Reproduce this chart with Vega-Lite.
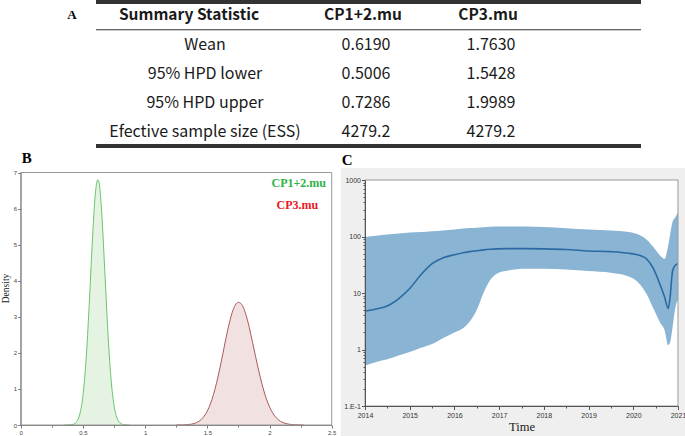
{
  "$schema": "https://vega.github.io/schema/vega-lite/v6.json",
  "width": 685,
  "height": 436,
  "autosize": {"type": "none"},
  "padding": 0,
  "background": "white",
  "config": {"view": {"stroke": null}},
  "resolve": {"scale": {"x": "independent", "y": "independent", "fill": "independent", "stroke": "independent", "strokeWidth": "independent"}},
  "layer": [
    {
      "data": {"values": [
        {"r": 0, "c": 2, "t": "Summary Statistic"},
        {"r": 0, "c": 3, "t": "CP1+2.mu"},
        {"r": 0, "c": 4, "t": "CP3.mu"},
        {"r": 1, "c": 2, "t": "Wean"},
        {"r": 1, "c": 3, "t": "0.6190"},
        {"r": 1, "c": 4, "t": "1.7630"},
        {"r": 2, "c": 2, "t": "95% HPD lower"},
        {"r": 2, "c": 3, "t": "0.5006"},
        {"r": 2, "c": 4, "t": "1.5428"},
        {"r": 3, "c": 2, "t": "95% HPD upper"},
        {"r": 3, "c": 3, "t": "0.7286"},
        {"r": 3, "c": 4, "t": "1.9989"},
        {"r": 4, "c": 2, "t": "Efective sample size (ESS)"},
        {"r": 4, "c": 3, "t": "4279.2"},
        {"r": 4, "c": 4, "t": "4279.2"}
      ]},
      "layer": [
        {
          "transform": [{"filter": "datum.r == 0 && datum.c == 2"}],
          "mark": {"type": "text", "font": "Noto Sans CJK SC", "fontSize": 15.5, "fontWeight": "bold", "color": "#1a1a1a", "baseline": "middle", "dx": -16},
          "encoding": {
            "x": {"field": "c", "type": "quantitative", "scale": {"domain": [0, 1, 2, 3, 4, 5], "range": [72, 96, 205, 366, 491, 641], "nice": false, "zero": false}, "axis": null},
            "y": {"field": "r", "type": "quantitative", "scale": {"domain": [0, 1, 4], "range": [15, 44.5, 131.5], "nice": false, "zero": false}, "axis": null},
            "text": {"field": "t"}
          }
        },
        {
          "transform": [{"filter": "datum.r == 0 && datum.c > 2"}],
          "mark": {"type": "text", "font": "Noto Sans CJK SC", "fontSize": 15.5, "fontWeight": "bold", "color": "#1a1a1a", "baseline": "middle", "dx": -3},
          "encoding": {
            "x": {"field": "c", "type": "quantitative"},
            "y": {"field": "r", "type": "quantitative"},
            "text": {"field": "t"}
          }
        },
        {
          "transform": [{"filter": "datum.r > 0"}],
          "mark": {"type": "text", "font": "Noto Sans CJK SC", "fontSize": 16, "color": "#1a1a1a", "baseline": "middle"},
          "encoding": {
            "x": {"field": "c", "type": "quantitative"},
            "y": {"field": "r", "type": "quantitative"},
            "text": {"field": "t"}
          }
        },
        {
          "data": {"values": [{"p": -0.44, "w": 1.6}, {"p": 0.5, "w": 1.1}, {"p": 4.5, "w": 1.6}]},
          "mark": {"type": "rule", "color": "#333"},
          "encoding": {
            "x": {"datum": 1, "type": "quantitative"},
            "x2": {"datum": 5},
            "y": {"field": "p", "type": "quantitative"},
            "strokeWidth": {"field": "w", "type": "quantitative", "scale": {"type": "identity"}, "legend": null}
          }
        },
        {
          "data": {"values": [{"label": "A"}]},
          "mark": {"type": "text", "font": "Liberation Serif", "fontSize": 13, "fontWeight": "bold", "color": "#000", "baseline": "middle"},
          "encoding": {
            "x": {"datum": 0, "type": "quantitative"},
            "y": {"datum": 0, "type": "quantitative"},
            "text": {"field": "label"}
          }
        }
      ]
    },
    {
      "data": {"values": [
        {"s": "CP1+2.mu", "x": 0.35, "d": 0.0},
        {"s": "CP1+2.mu", "x": 0.375, "d": 0.001},
        {"s": "CP1+2.mu", "x": 0.4, "d": 0.005},
        {"s": "CP1+2.mu", "x": 0.425, "d": 0.024},
        {"s": "CP1+2.mu", "x": 0.45, "d": 0.092},
        {"s": "CP1+2.mu", "x": 0.475, "d": 0.3},
        {"s": "CP1+2.mu", "x": 0.5, "d": 0.8},
        {"s": "CP1+2.mu", "x": 0.525, "d": 1.78},
        {"s": "CP1+2.mu", "x": 0.55, "d": 3.28},
        {"s": "CP1+2.mu", "x": 0.575, "d": 5.03},
        {"s": "CP1+2.mu", "x": 0.6, "d": 6.41},
        {"s": "CP1+2.mu", "x": 0.61, "d": 6.7},
        {"s": "CP1+2.mu", "x": 0.62, "d": 6.8},
        {"s": "CP1+2.mu", "x": 0.63, "d": 6.72},
        {"s": "CP1+2.mu", "x": 0.65, "d": 5.95},
        {"s": "CP1+2.mu", "x": 0.675, "d": 4.34},
        {"s": "CP1+2.mu", "x": 0.7, "d": 2.63},
        {"s": "CP1+2.mu", "x": 0.725, "d": 1.32},
        {"s": "CP1+2.mu", "x": 0.75, "d": 0.55},
        {"s": "CP1+2.mu", "x": 0.775, "d": 0.19},
        {"s": "CP1+2.mu", "x": 0.8, "d": 0.055},
        {"s": "CP1+2.mu", "x": 0.825, "d": 0.013},
        {"s": "CP1+2.mu", "x": 0.85, "d": 0.003},
        {"s": "CP1+2.mu", "x": 0.875, "d": 0.0},
        {"s": "CP3.mu", "x": 1.25, "d": 0.001},
        {"s": "CP3.mu", "x": 1.3, "d": 0.003},
        {"s": "CP3.mu", "x": 1.35, "d": 0.013},
        {"s": "CP3.mu", "x": 1.4, "d": 0.048},
        {"s": "CP3.mu", "x": 1.425, "d": 0.087},
        {"s": "CP3.mu", "x": 1.45, "d": 0.149},
        {"s": "CP3.mu", "x": 1.475, "d": 0.246},
        {"s": "CP3.mu", "x": 1.5, "d": 0.388},
        {"s": "CP3.mu", "x": 1.525, "d": 0.586},
        {"s": "CP3.mu", "x": 1.55, "d": 0.848},
        {"s": "CP3.mu", "x": 1.575, "d": 1.175},
        {"s": "CP3.mu", "x": 1.6, "d": 1.557},
        {"s": "CP3.mu", "x": 1.625, "d": 1.976},
        {"s": "CP3.mu", "x": 1.65, "d": 2.403},
        {"s": "CP3.mu", "x": 1.675, "d": 2.797},
        {"s": "CP3.mu", "x": 1.7, "d": 3.117},
        {"s": "CP3.mu", "x": 1.725, "d": 3.327},
        {"s": "CP3.mu", "x": 1.75, "d": 3.4},
        {"s": "CP3.mu", "x": 1.775, "d": 3.35},
        {"s": "CP3.mu", "x": 1.8, "d": 3.17},
        {"s": "CP3.mu", "x": 1.825, "d": 2.88},
        {"s": "CP3.mu", "x": 1.85, "d": 2.51},
        {"s": "CP3.mu", "x": 1.875, "d": 2.11},
        {"s": "CP3.mu", "x": 1.9, "d": 1.71},
        {"s": "CP3.mu", "x": 1.925, "d": 1.34},
        {"s": "CP3.mu", "x": 1.95, "d": 1.0},
        {"s": "CP3.mu", "x": 1.975, "d": 0.725},
        {"s": "CP3.mu", "x": 2.0, "d": 0.505},
        {"s": "CP3.mu", "x": 2.025, "d": 0.338},
        {"s": "CP3.mu", "x": 2.05, "d": 0.218},
        {"s": "CP3.mu", "x": 2.075, "d": 0.135},
        {"s": "CP3.mu", "x": 2.1, "d": 0.081},
        {"s": "CP3.mu", "x": 2.15, "d": 0.026},
        {"s": "CP3.mu", "x": 2.2, "d": 0.007},
        {"s": "CP3.mu", "x": 2.25, "d": 0.002},
        {"s": "CP3.mu", "x": 2.275, "d": 0.001}
      ]},
      "layer": [
        {
          "mark": {"type": "area", "interpolate": "monotone"},
          "encoding": {
            "x": {"field": "x", "type": "quantitative", "scale": {"domain": [0, 2.5], "range": [20.7, 331.7], "nice": false, "zero": false},
              "axis": {"orient": "bottom", "offset": -11, "zindex": 1, "values": [0, 0.25, 0.5, 0.75, 1, 1.25, 1.5, 1.75, 2, 2.25, 2.5],
                "labelExpr": "(datum.value * 2) % 1 ? '' : format(datum.value, '~g')",
                "tickSize": {"condition": {"test": "(datum.value * 2) % 1", "value": 2}, "value": 3},
                "title": null, "grid": false, "labelFont": "Liberation Sans", "labelFontSize": 6, "labelColor": "#444", "tickColor": "#777", "domainColor": "#888", "labelPadding": 1, "labelFlush": false, "labelOverlap": false}},
            "y": {"field": "d", "type": "quantitative", "scale": {"domain": [0, 7], "range": [425, 172.5], "nice": false, "zero": false},
              "axis": {"orient": "left", "offset": -20.7, "zindex": 1, "values": [0, 0.5, 1, 1.5, 2, 2.5, 3, 3.5, 4, 4.5, 5, 5.5, 6, 6.5, 7],
                "labelExpr": "datum.value % 1 ? '' : format(datum.value, 'd')",
                "tickSize": {"condition": {"test": "datum.value % 1", "value": 1.5}, "value": 3},
                "title": "Density", "titleFont": "Liberation Serif", "titleFontSize": 9.5, "titleFontWeight": "normal", "titleColor": "#222", "titlePadding": 3, "titleY": 288, "grid": false, "labelFont": "Liberation Sans", "labelFontSize": 6, "labelColor": "#444", "tickColor": "#777", "domainColor": "#888", "labelPadding": 1, "labelOverlap": false}},
            "fill": {"field": "s", "type": "nominal", "scale": {"domain": ["CP1+2.mu", "CP3.mu"], "range": ["#e4f3e2", "#f2e1e1"]}, "legend": null}
          }
        },
        {
          "mark": {"type": "line", "interpolate": "monotone", "strokeWidth": 1},
          "encoding": {
            "x": {"field": "x", "type": "quantitative"},
            "y": {"field": "d", "type": "quantitative"},
            "stroke": {"field": "s", "type": "nominal", "scale": {"domain": ["CP1+2.mu", "CP3.mu"], "range": ["#6cc46a", "#a85a5c"]}, "legend": null}
          }
        },
        {
          "data": {"values": [{}]},
          "mark": {"type": "rect", "fillOpacity": 0, "stroke": "#999", "strokeWidth": 1},
          "encoding": {
            "x": {"datum": 0, "type": "quantitative"},
            "x2": {"datum": 2.5},
            "y": {"datum": 7, "type": "quantitative"},
            "y2": {"datum": 0}
          }
        },
        {
          "data": {"values": [{"label": "CP1+2.mu"}]},
          "mark": {"type": "text", "font": "Liberation Serif", "fontSize": 12, "fontWeight": "bold", "color": "#2db34a", "align": "right", "baseline": "middle"},
          "encoding": {
            "x": {"datum": 2.454, "type": "quantitative"},
            "y": {"datum": 6.7, "type": "quantitative"},
            "text": {"field": "label"}
          }
        },
        {
          "data": {"values": [{"label": "CP3.mu"}]},
          "mark": {"type": "text", "font": "Liberation Serif", "fontSize": 12, "fontWeight": "bold", "color": "#e8191e", "align": "right", "baseline": "middle"},
          "encoding": {
            "x": {"datum": 2.392, "type": "quantitative"},
            "y": {"datum": 6.1, "type": "quantitative"},
            "text": {"field": "label"}
          }
        },
        {
          "data": {"values": [{"label": "B"}]},
          "mark": {"type": "text", "font": "Liberation Serif", "fontSize": 15, "fontWeight": "bold", "color": "#000", "align": "left", "baseline": "alphabetic"},
          "encoding": {
            "x": {"datum": 0.008, "type": "quantitative"},
            "y": {"datum": 7.27, "type": "quantitative"},
            "text": {"field": "label"}
          }
        }
      ]
    },
    {
      "data": {"values": [
        {"t": 2014.0, "m": 4.8, "lo": 0.52, "hi": 98},
        {"t": 2014.25, "m": 5.2, "lo": 0.6, "hi": 103},
        {"t": 2014.5, "m": 5.9, "lo": 0.67, "hi": 108},
        {"t": 2014.75, "m": 7.9, "lo": 0.78, "hi": 113},
        {"t": 2015.0, "m": 12.0, "lo": 0.9, "hi": 118},
        {"t": 2015.25, "m": 21, "lo": 1.07, "hi": 120},
        {"t": 2015.5, "m": 33, "lo": 1.25, "hi": 124},
        {"t": 2015.75, "m": 42, "lo": 1.6, "hi": 128},
        {"t": 2016.0, "m": 47.5, "lo": 2.0, "hi": 133},
        {"t": 2016.2, "m": 51.5, "lo": 2.4, "hi": 138},
        {"t": 2016.35, "m": 54, "lo": 3.2, "hi": 141},
        {"t": 2016.5, "m": 56, "lo": 5.0, "hi": 143},
        {"t": 2016.65, "m": 58, "lo": 10, "hi": 146},
        {"t": 2016.8, "m": 59.5, "lo": 17, "hi": 149},
        {"t": 2016.95, "m": 60.5, "lo": 22, "hi": 150},
        {"t": 2017.2, "m": 61, "lo": 25, "hi": 151},
        {"t": 2017.6, "m": 61, "lo": 26.8, "hi": 150},
        {"t": 2018.0, "m": 60.5, "lo": 26.8, "hi": 147},
        {"t": 2018.5, "m": 59, "lo": 26, "hi": 140},
        {"t": 2019.0, "m": 55.5, "lo": 24.5, "hi": 133},
        {"t": 2019.5, "m": 54, "lo": 22.8, "hi": 128},
        {"t": 2019.9, "m": 50.5, "lo": 19.5, "hi": 120},
        {"t": 2020.15, "m": 46, "lo": 14.2, "hi": 105},
        {"t": 2020.3, "m": 40, "lo": 9.5, "hi": 88},
        {"t": 2020.45, "m": 27, "lo": 5.3, "hi": 65},
        {"t": 2020.6, "m": 14, "lo": 3.0, "hi": 46},
        {"t": 2020.7, "m": 8.5, "lo": 2.2, "hi": 40},
        {"t": 2020.78, "m": 5.3, "lo": 1.2, "hi": 69},
        {"t": 2020.82, "m": 8.0, "lo": 1.3, "hi": 104},
        {"t": 2020.88, "m": 25, "lo": 2.5, "hi": 185},
        {"t": 2020.94, "m": 31, "lo": 5.5, "hi": 220},
        {"t": 2021.0, "m": 33, "lo": 7.7, "hi": 270}
      ]},
      "layer": [
        {
          "data": {"values": [{}]},
          "mark": {"type": "rect", "color": "#efefef"},
          "encoding": {
            "x": {"datum": 2013.46, "type": "quantitative", "scale": {"domain": [2014, 2021], "range": [365, 678], "nice": false, "zero": false}},
            "x2": {"datum": 2021.16},
            "y": {"datum": 1630, "type": "quantitative", "scale": {"type": "log", "domain": [0.1, 1000], "range": [406, 180], "nice": false}},
            "y2": {"datum": 0.0295}
          }
        },
        {
          "data": {"values": [{}]},
          "mark": {"type": "rect", "fill": "white"},
          "encoding": {
            "x": {"datum": 2014, "type": "quantitative"},
            "x2": {"datum": 2021},
            "y": {"datum": 1000, "type": "quantitative"},
            "y2": {"datum": 0.1}
          }
        },
        {
          "mark": {"type": "area", "color": "#8ab4d3", "interpolate": "monotone"},
          "encoding": {
            "x": {"field": "t", "type": "quantitative",
              "axis": {"orient": "bottom", "offset": -30, "zindex": 1, "values": [2014, 2014.5, 2015, 2015.5, 2016, 2016.5, 2017, 2017.5, 2018, 2018.5, 2019, 2019.5, 2020, 2020.5, 2021],
                "labelExpr": "datum.value % 1 ? '' : format(datum.value, 'd')",
                "tickSize": {"condition": {"test": "datum.value % 1", "value": 2}, "value": 3.5},
                "title": "Time", "titleFont": "Liberation Serif", "titleFontSize": 12.5, "titleFontWeight": "normal", "titleColor": "#222", "titlePadding": 2, "grid": false, "labelFont": "Liberation Sans", "labelFontSize": 7, "labelColor": "#333", "tickColor": "#555", "domainColor": "#555", "labelPadding": 2, "labelFlush": false, "labelOverlap": false}},
            "y": {"field": "lo", "type": "quantitative",
              "axis": {"orient": "left", "offset": -365, "zindex": 1,
                "values": [0.1, 0.2, 0.3, 0.4, 0.5, 0.6, 0.7, 0.8, 0.9, 1, 2, 3, 4, 5, 6, 7, 8, 9, 10, 20, 30, 40, 50, 60, 70, 80, 90, 100, 200, 300, 400, 500, 600, 700, 800, 900, 1000],
                "labelExpr": "indexof([0.1, 1, 10, 100, 1000], datum.value) < 0 ? '' : (datum.value == 0.1 ? '1.E-1' : format(datum.value, 'd'))",
                "tickSize": {"condition": {"test": "indexof([0.1, 1, 10, 100, 1000], datum.value) < 0", "value": 2}, "value": 3.5},
                "title": null, "grid": false, "labelFont": "Liberation Sans", "labelFontSize": 7, "labelColor": "#333", "tickColor": "#555", "domainColor": "#555", "labelPadding": 1, "labelOverlap": false}},
            "y2": {"field": "hi"}
          }
        },
        {
          "mark": {"type": "line", "color": "#2a6aa3", "strokeWidth": 1.6, "interpolate": "monotone"},
          "encoding": {
            "x": {"field": "t", "type": "quantitative"},
            "y": {"field": "m", "type": "quantitative"}
          }
        },
        {
          "data": {"values": [{}]},
          "mark": {"type": "rect", "fillOpacity": 0, "stroke": "#999", "strokeWidth": 1},
          "encoding": {
            "x": {"datum": 2014, "type": "quantitative"},
            "x2": {"datum": 2021},
            "y": {"datum": 1000, "type": "quantitative"},
            "y2": {"datum": 0.1}
          }
        },
        {
          "data": {"values": [{"label": "C"}]},
          "mark": {"type": "text", "font": "Liberation Serif", "fontSize": 15, "fontWeight": "bold", "color": "#000", "align": "left", "baseline": "alphabetic"},
          "encoding": {
            "x": {"datum": 2013.479, "type": "quantitative"},
            "y": {"datum": 1843, "type": "quantitative"},
            "text": {"field": "label"}
          }
        }
      ]
    }
  ]
}
